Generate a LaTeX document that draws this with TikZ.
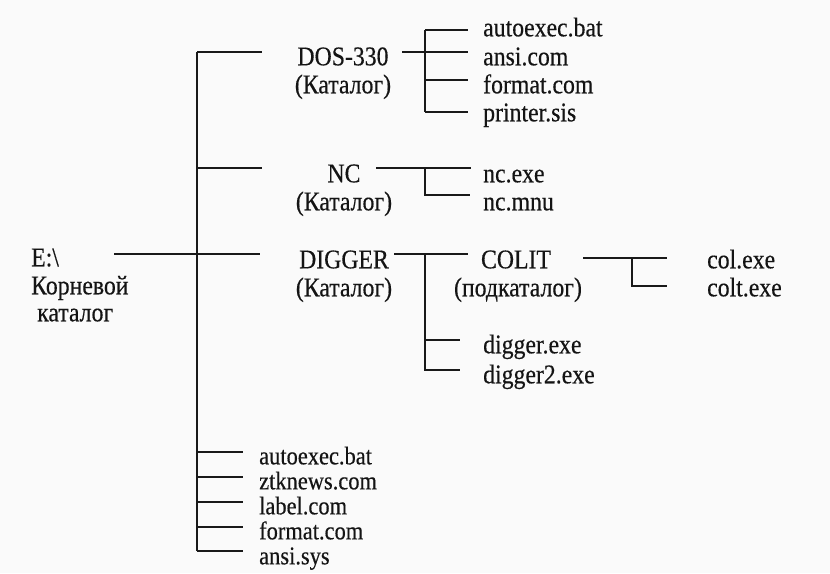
\documentclass[tikz,border=0pt]{standalone}
\usepackage{fontspec}
\setmainfont{Liberation Serif}[FakeStretch=0.88,FakeBold=0.4]
\begin{document}
\begin{tikzpicture}[x=1pt,y=-1pt,
  ln/.style={line width=2pt,black!90},
  txt/.style={inner sep=0pt,font=\fontsize{27}{30}\selectfont,text=black!92},
  fl/.style={txt,anchor=mid west},
  flb/.style={fl,font=\fontsize{25.5}{27}\selectfont},
  dir/.style={txt,anchor=mid}]
\fill[gray!4] (0,0) rectangle (830,573);
\useasboundingbox (0,0) rectangle (830,573);
% root
\node[fl] (e) at (31,264) {E:\textbackslash};
\node[fl] (root1) at (31,292) {Корневой};
\node[fl] (root2) at (37,319) {каталог};
% directories
\node[dir] (dos) at (343,63) {DOS-330};
\node[dir] (dosk) at (343,91) {(Каталог)};
\node[dir] (nc) at (344,180) {NC};
\node[dir] (nck) at (344,208) {(Каталог)};
\node[dir] (dig) at (344,266) {DIGGER};
\node[dir] (digk) at (344,294) {(Каталог)};
\node[dir] (colit) at (516,266) {COLIT};
\node[dir] (colitk) at (518,294) {(подкаталог)};
% files DOS
\node[fl] (f1) at (483,34) {autoexec.bat};
\node[fl] (f2) at (483,63) {ansi.com};
\node[fl] (f3) at (483,91) {format.com};
\node[fl] (f4) at (483,119) {printer.sis};
% files NC
\node[fl] (n1) at (483,180) {nc.exe};
\node[fl] (n2) at (483,208) {nc.mnu};
% files DIGGER
\node[fl] (d1) at (483,351) {digger.exe};
\node[fl] (d2) at (483,381) {digger2.exe};
% files COLIT
\node[fl] (c1) at (707,266) {col.exe};
\node[fl] (c2) at (707,294) {colt.exe};
% root files
\node[flb] (r1) at (259,462) {autoexec.bat};
\node[flb] (r2) at (259,487) {ztknews.com};
\node[flb] (r3) at (259,512) {label.com};
\node[flb] (r4) at (259,537) {format.com};
\node[flb] (r5) at (259,562) {ansi.sys};
% coordinates
\coordinate (ttop) at (197,52);
\coordinate (tbot) at (197,551);
\coordinate (rootl) at (114,254);
\coordinate (rootr) at (260,254);
% trunk and branches
\draw[ln] (ttop) -- (tbot);
\draw[ln] (ttop) -- (262,52);
\draw[ln] (197,168) -- (262,168);
\draw[ln] (rootl) -- (rootr);
\foreach \yy in {452,477,502,527,551} \draw[ln] (197,\yy) -- (243,\yy);
% DOS subtree
\draw[ln] (402,52) -- (468,52);
\draw[ln] (425,30) -- (425,112);
\draw[ln] (425,30) -- (468,30);
\draw[ln] (425,80) -- (468,80);
\draw[ln] (425,112) -- (468,112);
% NC subtree
\draw[ln] (376,168) -- (471,168);
\draw[ln] (425,168) -- (425,195) -- (470,195);
% DIGGER subtree
\draw[ln] (394,254) -- (468,254);
\draw[ln] (425,254) -- (425,370) -- (460,370);
\draw[ln] (425,340) -- (460,340);
% COLIT subtree
\draw[ln] (583,258) -- (667,258);
\draw[ln] (632,258) -- (632,286) -- (667,286);
\end{tikzpicture}
\end{document}
